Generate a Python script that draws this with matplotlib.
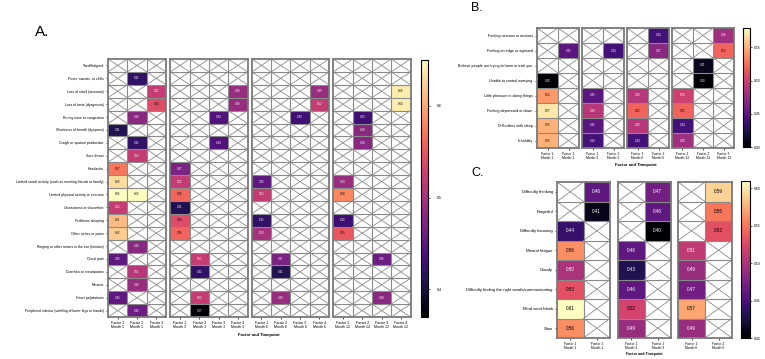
import matplotlib
matplotlib.use("Agg")
import matplotlib.pyplot as plt
import numpy as np
from matplotlib.colors import Normalize

plt.rcParams['font.family'] = ['Liberation Sans', 'DejaVu Sans']

_ = None

# ---- panel A: physical symptoms ----
a_rows = ["Tired/fatigued", "Fever, sweats, or chills", "Loss of smell (anosmia)",
          "Loss of taste (dysgeusia)", "Runny nose or congestion",
          "Shortness of breath (dyspnea)", "Cough or sputum production", "Sore throat",
          "Headache", "Limited social activity (such as meeting friends or family)",
          "Limited physical activity or exercise", "Uneasiness or discomfort",
          "Problems sleeping", "Other aches or pains",
          "Ringing or other noises in the ear (tinnitus)", "Chest pain",
          "Diarrhea or constipation", "Nausea", "Heart palpitations",
          "Peripheral edema (swelling of lower legs or hands)"]
a_months = ["Month 1", "Month 3", "Month 6", "Month 12"]
a_m1 = [[_, _, _, _, _, .41, _, _, .57, .63, .65, .52, .61, .62, _, .45, _, _, .45, _],
        [_, .42, _, _, .48, _, .42, .52, _, _, .65, _, _, _, .48, _, .51, .49, _, .46],
        [_, _, .52, .54, _, _, _, _, _, _, _, _, _, _, _, _, _, _, _, _]]
a_m3 = [[_, _, _, _, _, _, _, _, .47, .52, .56, .41, .54, .56, _, _, _, _, _, _],
        [_, _, _, _, _, _, _, _, _, _, _, _, _, _, _, .52, .42, _, .52, .37],
        [_, _, _, _, .44, _, .44, _, _, _, _, _, _, _, _, _, _, _, _, _],
        [_, _, .49, .49, _, _, _, _, _, _, _, _, _, _, _, _, _, _, _, _]]
a_m6 = [[_, _, _, _, _, _, _, _, _, .45, .52, _, .42, .50, _, _, _, _, _, _],
        [_, _, _, _, _, _, _, _, _, _, _, _, _, _, _, .47, .41, _, .49, _],
        [_, _, _, _, .43, _, _, _, _, _, _, _, _, _, _, _, _, _, _, _],
        [_, _, .49, .52, _, _, _, _, _, _, _, _, _, _, _, _, _, _, _, _]]
a_m12 = [[_, _, _, _, _, _, _, _, _, .49, .58, _, .43, .55, _, _, _, _, _, _],
         [_, _, _, _, .43, .48, .48, _, _, _, _, _, _, _, _, _, _, _, _, _],
         [_, _, _, _, _, _, _, _, _, _, _, _, _, _, _, .46, _, _, .48, _],
         [_, _, .64, .64, _, _, _, _, _, _, _, _, _, _, _, _, _, _, _, _]]

# ---- panel B: mood ----
b_rows = ["Feeling nervous or anxious", "Feeling on edge or agitated",
          "Believe people are trying to harm or trick you", "Unable to control worrying",
          "Little pleasure in doing things", "Feeling depressed or down",
          "Difficulties with sleep", "Irritability"]
b_months = ["Month 1", "Month 3", "Month 6", "Month 12"]
b_m1 = [[_, _, _, .40, .54, .57, .55, .55],
        [_, .45, _, _, _, _, _, _]]
b_m3 = [[_, _, _, _, .45, .49, .45, .44],
        [_, .44, _, _, _, _, _, _]]
b_m6 = [[_, _, _, _, .49, .52, .49, .44],
        [.44, .47, _, _, _, _, _, _]]
b_m12 = [[_, _, _, _, .50, .52, .44, .48],
         [_, _, .41, .40, _, _, _, _],
         [.48, .52, _, _, _, _, _, _]]

# ---- panel C: cognitive ----
c_rows = ["Difficulty thinking", "Forgetful", "Difficulty focusing", "Mental fatigue",
          "Cloudy", "Difficulty finding the right words/communicating",
          "Mind went blank", "Slow"]
c_months = ["Month 1", "Month 3", "Month 6"]
c_m1 = [[_, _, .44, .56, .50, .53, .61, .56],
        [.46, .41, _, _, _, _, _, _]]
c_m3 = [[_, _, _, .46, .43, .46, .52, .49],
        [.47, .46, .40, _, _, _, _, _]]
c_m6 = [[_, _, _, .51, .49, .47, .57, .49],
        [.59, .55, .53, _, _, _, _, _]]

W, H = 765, 359
fig = plt.figure(figsize=(W / 100, H / 100), dpi=100)
cmap = plt.get_cmap("magma")
GRID = "#8a8a8a"


def rect(x0, y0, x1, y1):
    return [x0 / W, 1 - y1 / H, (x1 - x0) / W, (y1 - y0) / H]


def draw_group(ax, cols, month, rows, norm, show_rows, lab_fs, val_fs, tick_fs):
    nc, nr = len(cols), len(rows)
    vals = np.array([[np.nan if v is None else v for v in col] for col in cols]).T
    ax.pcolormesh(np.arange(nc + 1), np.arange(nr + 1), np.ma.masked_invalid(vals),
                  cmap=cmap, norm=norm)
    for j in range(nc):
        for i in range(nr):
            v = vals[i, j]
            if np.isnan(v):
                ax.plot([j, j + 1], [i, i + 1], color=GRID, lw=0.6)
                ax.plot([j, j + 1], [i + 1, i], color=GRID, lw=0.6)
            else:
                tc = "black" if norm(v) > 0.56 else "white"
                ax.text(j + 0.5, i + 0.5, f"{v:.2f}", ha="center", va="center",
                        fontsize=val_fs, color=tc)
    ax.hlines(np.arange(1, nr), 0, nc, color=GRID, lw=0.8)
    ax.vlines(np.arange(1, nc), 0, nr, color=GRID, lw=0.8)
    ax.set_xlim(0, nc)
    ax.set_ylim(nr, 0)
    for s in ax.spines.values():
        s.set_color("#7a7a7a")
        s.set_linewidth(1.3)
    ax.set_xticks(np.arange(nc) + 0.5)
    ax.set_xticklabels([f"Factor {k + 1}\n{month}" for k in range(nc)],
                       fontsize=tick_fs, linespacing=1.1)
    ax.tick_params(length=1.5, width=0.5, pad=1.5)
    if show_rows:
        ax.set_yticks(np.arange(nr) + 0.5)
        ax.set_yticklabels(rows, fontsize=lab_fs)
    else:
        ax.set_yticks([])


def draw_panel(groups, months, rows, xspans, y0, y1, norm, fs, cbar_box, cticks, cfmt,
               cpad, xlabel_y, xlabel_fs):
    for k, (cols, month, (xa, xb)) in enumerate(zip(groups, months, xspans)):
        ax = fig.add_axes(rect(xa, y0, xb, y1))
        draw_group(ax, cols, month, rows, norm, k == 0, *fs)
    cax = fig.add_axes(rect(*cbar_box))
    sm = plt.cm.ScalarMappable(norm=norm, cmap=cmap)
    cb = fig.colorbar(sm, cax=cax, ticks=cticks)
    cb.ax.set_yticklabels([cfmt.format(t) for t in cticks])
    cb.ax.tick_params(labelsize=fs[2], length=1.5, width=0.5, pad=cpad)
    cb.outline.set_linewidth(0.8)
    xc = (xspans[0][0] + xspans[-1][1]) / 2
    fig.text(xc / W, 1 - xlabel_y / H, "Factor and Timepoint", ha="center",
             va="center", fontsize=xlabel_fs, fontweight="bold")


# panel A
draw_panel([a_m1, a_m3, a_m6, a_m12], a_months, a_rows,
           [(108, 166), (170.3, 247.5), (251.8, 329), (333.3, 410.5)], 59, 317,
           Normalize(0.37, 0.65), (2.5, 2.0, 2.6), (421, 60, 428, 317),
           [0.4, 0.5, 0.6], "{:.1f}", 5, 335, 3.0)

# panel B
draw_panel([b_m1, b_m3, b_m6, b_m12], b_months, b_rows,
           [(537, 579), (582, 624), (627, 669), (672, 734)], 28, 148,
           Normalize(0.40, 0.579), (2.7, 2.0, 2.4), (743, 28, 750, 147),
           [0.40, 0.45, 0.50, 0.55], "{:.2f}", 1, 165, 3.0)

# panel C
draw_panel([c_m1, c_m3, c_m6], c_months, c_rows,
           [(557, 610), (618, 671), (678, 732)], 182, 338,
           Normalize(0.40, 0.61), (3.1, 3.3, 2.4), (741, 181, 750, 338),
           [0.40, 0.45, 0.50, 0.55, 0.60], "{:.2f}", 1, 354, 2.6)

fig.text(35 / W, 1 - 32 / H, "A.", fontsize=11, va="center")
fig.text(471 / W, 1 - 8 / H, "B.", fontsize=9, va="center")
fig.text(471 / W, 1 - 173 / H, "C.", fontsize=9, va="center")

fig.savefig("out.png", dpi=100)
